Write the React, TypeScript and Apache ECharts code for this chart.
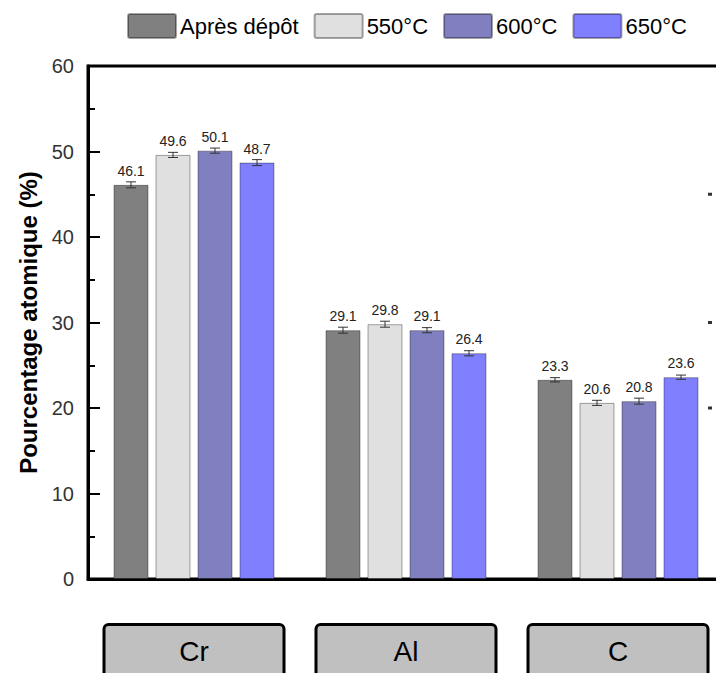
import React, { useEffect, useRef } from "react";
import * as echarts from "echarts";

const categories = ["Cr", "Al", "C"];
const seriesNames = ["Après dépôt", "550°C", "600°C", "650°C"];
const apresDepot = [46.1, 29.1, 23.3];
const t550 = [49.6, 29.8, 20.6];
const t600 = [50.1, 29.1, 20.8];
const t650 = [48.7, 26.4, 23.6];
const errApres = [0.35, 0.35, 0.25];
const err550 = [0.3, 0.35, 0.3];
const err600 = [0.3, 0.3, 0.35];
const err650 = [0.35, 0.3, 0.25];
const yTicks = { min: 0, max: 60, interval: 10 };
const rightTickValues = [45, 30, 20];

const colors = ["#808080", "#e0e0e0", "#8080c0", "#8080ff"];
const FONT = "Liberation Sans, Arial, sans-serif";
const BAR_W = 35;
const BAR_GAP = 7;

export default function App() {
  const ref = useRef<HTMLDivElement>(null);
  useEffect(() => {
    if (!ref.current) return;
    const chart = echarts.init(ref.current, null, { renderer: "svg" });
    const values = [apresDepot, t550, t600, t650];
    const errors = [errApres, err550, err600, err650];

    const barSeries = values.map((v, i) => ({
      name: seriesNames[i],
      type: "bar",
      data: v,
      barWidth: BAR_W,
      barGap: `${(BAR_GAP / BAR_W) * 100}%`,
      itemStyle: { color: colors[i], borderColor: "rgba(0,0,0,0.35)", borderWidth: 1 },
      label: {
        show: true,
        position: "top",
        distance: 7,
        fontSize: 14,
        color: "#222",
        fontFamily: FONT,
        formatter: (p: any) => p.value.toFixed(1),
      },
      z: 2,
    }));

    const errSeries = values.map((v, i) => ({
      name: "err" + i,
      type: "custom",
      z: 5,
      silent: true,
      data: v.map((val, k) => [k, val - errors[i][k], val + errors[i][k]]),
      encode: { x: 0, y: [1, 2] },
      renderItem: (params: any, api: any) => {
        const off = (i - 1.5) * (BAR_W + BAR_GAP);
        const hi = api.coord([api.value(0), api.value(2)]);
        const lo = api.coord([api.value(0), api.value(1)]);
        const x = hi[0] + off;
        const half = 5;
        const style = { stroke: "#333", lineWidth: 1 };
        return {
          type: "group",
          children: [
            { type: "line", shape: { x1: x, y1: hi[1], x2: x, y2: lo[1] }, style },
            { type: "line", shape: { x1: x - half, y1: hi[1], x2: x + half, y2: hi[1] }, style },
            { type: "line", shape: { x1: x - half, y1: lo[1], x2: x + half, y2: lo[1] }, style },
          ],
        };
      },
    }));

    chart.setOption({
      animation: false,
      legend: {
        data: seriesNames,
        left: 127,
        top: 13,
        padding: 0,
        itemWidth: 48,
        itemHeight: 24,
        itemGap: 15,
        icon: "path://M2,0 H46 Q48,0 48,2 V22 Q48,24 46,24 H2 Q0,24 0,22 V2 Q0,0 2,0 Z",
        textStyle: { fontSize: 22, color: "#000", fontFamily: FONT, padding: [0, 0, 0, -1] },
      },
      grid: {
        left: 88,
        top: 66,
        bottom: 94,
        width: 636,
        outerBoundsMode: "none",
        containLabel: false,
        show: true,
        borderColor: "#000",
        borderWidth: 3,
      },
      xAxis: {
        type: "category",
        data: categories,
        axisLine: { lineStyle: { color: "#000", width: 3 } },
        axisTick: { show: false },
        axisLabel: {
          margin: 47,
          fontSize: 28,
          color: "#000",
          fontFamily: FONT,
          backgroundColor: "#c0c0c0",
          borderColor: "#000",
          borderWidth: 3,
          borderRadius: 3,
          width: 177,
          lineHeight: 30,
          padding: [10, 0, 24, 0],
          align: "center",
        },
      },
      yAxis: {
        type: "value",
        min: yTicks.min,
        max: yTicks.max,
        interval: yTicks.interval,
        name: "Pourcentage atomique (%)",
        nameLocation: "middle",
        nameGap: 46,
        nameTextStyle: { fontSize: 24, fontWeight: "bold", color: "#000", fontFamily: FONT },
        axisLine: { show: true, lineStyle: { color: "#000", width: 3 } },
        axisTick: { show: true, inside: true, length: 12, lineStyle: { color: "#000", width: 2 } },
        minorTick: { show: true, splitNumber: 2, length: 7, lineStyle: { color: "#000", width: 2 } },
        splitLine: { show: false },
        axisLabel: { fontSize: 20, color: "#333", margin: 14, fontFamily: FONT },
      },
      series: [
        ...barSeries,
        ...errSeries,
        {
          name: "rticks",
          type: "scatter",
          data: rightTickValues.map((v) => [2, v]),
          symbol: "rect",
          symbolSize: [4, 3],
          symbolOffset: [92, 0],
          itemStyle: { color: "#000" },
          silent: true,
          z: 6,
        },
      ],
    });
    return () => chart.dispose();
  }, []);
  return (
    <div
      ref={ref}
      style={{ position: "absolute", left: 0, top: 0, width: 716, height: 673, background: "#fff" }}
    />
  );
}
